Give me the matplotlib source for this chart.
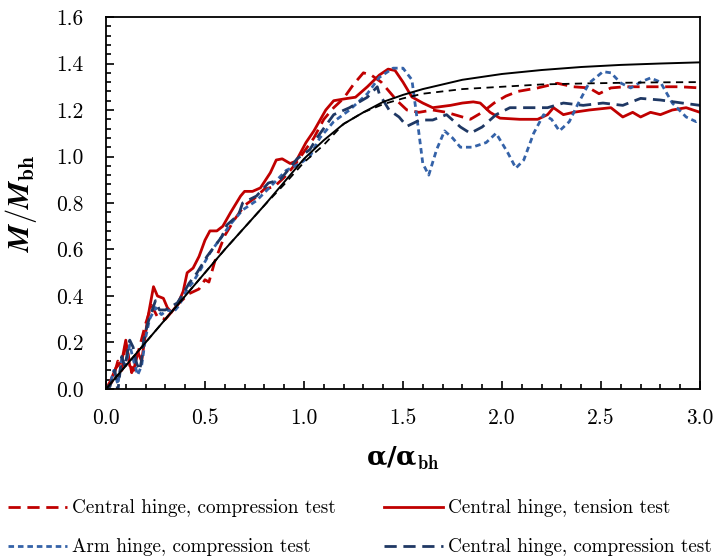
import numpy as np
import matplotlib
matplotlib.use('Agg')
import matplotlib.pyplot as plt
from matplotlib.ticker import MultipleLocator

plt.rcParams['font.family'] = ['cmr10', 'DejaVu Serif']
plt.rcParams['mathtext.fontset'] = 'cm'
plt.rcParams['axes.formatter.use_mathtext'] = True

# ---- data ----
# red dashed: central hinge, compression test
x_red_d = [0, 0.03, 0.06, 0.08, 0.10, 0.13, 0.16, 0.20, 0.23, 0.26, 0.30, 0.33, 0.37, 0.42, 0.47,
           0.50, 0.52, 0.55, 0.60, 0.65, 0.70, 0.75, 0.80, 0.85, 0.90, 0.95, 1.00, 1.05, 1.10, 1.15,
           1.20, 1.25, 1.30, 1.34, 1.39, 1.43, 1.47, 1.52, 1.58, 1.65, 1.72, 1.80, 1.84, 1.90, 1.96,
           2.02, 2.08, 2.18, 2.28, 2.36, 2.44, 2.49, 2.55, 2.62, 2.70, 2.80, 2.90, 3.00]
y_red_d = [0, 0.03, 0.12, 0.08, 0.20, 0.07, 0.15, 0.28, 0.36, 0.31, 0.30, 0.33, 0.37, 0.41, 0.43,
           0.47, 0.46, 0.55, 0.66, 0.73, 0.79, 0.82, 0.86, 0.87, 0.91, 0.96, 1.02, 1.08, 1.16, 1.21,
           1.25, 1.31, 1.36, 1.35, 1.32, 1.28, 1.24, 1.20, 1.19, 1.20, 1.19, 1.17, 1.16, 1.19, 1.23,
           1.26, 1.28, 1.295, 1.315, 1.30, 1.295, 1.27, 1.295, 1.30, 1.30, 1.30, 1.30, 1.295]

# red solid: central hinge, tension test
x_red_s = [0, 0.02, 0.05, 0.08, 0.10, 0.12, 0.14, 0.16, 0.18, 0.21, 0.24, 0.26, 0.29, 0.31, 0.33,
           0.36, 0.39, 0.41, 0.44, 0.47, 0.50, 0.525, 0.56, 0.59, 0.63, 0.68, 0.70, 0.74, 0.78, 0.83,
           0.86, 0.89, 0.93, 0.96, 1.01, 1.05, 1.11, 1.15, 1.22, 1.26, 1.32, 1.38, 1.425, 1.46, 1.50,
           1.545, 1.60, 1.65, 1.74, 1.80, 1.855, 1.89, 1.94, 1.99, 2.09, 2.18, 2.23, 2.26, 2.31, 2.36,
           2.44, 2.55, 2.61, 2.66, 2.70, 2.75, 2.80, 2.86, 2.93, 3.00]
y_red_s = [0, 0.03, 0.09, 0.12, 0.21, 0.10, 0.08, 0.16, 0.12, 0.30, 0.44, 0.40, 0.39, 0.35, 0.33,
           0.36, 0.42, 0.50, 0.52, 0.57, 0.64, 0.68, 0.68, 0.70, 0.76, 0.83, 0.85, 0.85, 0.865, 0.93,
           0.985, 0.99, 0.97, 0.98, 1.06, 1.11, 1.20, 1.24, 1.25, 1.255, 1.30, 1.35, 1.376, 1.37, 1.32,
           1.256, 1.23, 1.21, 1.22, 1.23, 1.235, 1.23, 1.19, 1.165, 1.16, 1.16, 1.18, 1.21, 1.18, 1.19,
           1.20, 1.21, 1.17, 1.19, 1.17, 1.19, 1.18, 1.20, 1.21, 1.19]

# light blue short dash: arm hinge, compression test
x_arm = [0, 0.02, 0.04, 0.06, 0.08, 0.10, 0.12, 0.14, 0.16, 0.18, 0.20, 0.22, 0.25, 0.28, 0.31,
         0.34, 0.37, 0.41, 0.44, 0.475, 0.525, 0.58, 0.63, 0.69, 0.76, 0.83, 0.91, 0.98, 1.03, 1.08,
         1.15, 1.23, 1.32, 1.38, 1.45, 1.50, 1.545, 1.57, 1.60, 1.63, 1.67, 1.71, 1.75, 1.79, 1.85,
         1.92, 1.97, 2.03, 2.07, 2.11, 2.16, 2.21, 2.25, 2.29, 2.34, 2.38, 2.44, 2.51, 2.55, 2.60,
         2.65, 2.70, 2.75, 2.80, 2.86, 2.93, 2.98, 3.00]
y_arm = [0, 0.02, 0.08, 0.02, 0.13, 0.10, 0.19, 0.12, 0.06, 0.10, 0.22, 0.30, 0.35, 0.32, 0.34,
         0.33, 0.36, 0.43, 0.46, 0.51, 0.585, 0.65, 0.71, 0.77, 0.81, 0.87, 0.94, 0.97, 1.00, 1.08,
         1.15, 1.20, 1.27, 1.34, 1.38, 1.38, 1.33, 1.17, 0.97, 0.92, 1.03, 1.11, 1.08, 1.04, 1.04,
         1.06, 1.10, 1.015, 0.95, 0.985, 1.10, 1.18, 1.16, 1.11, 1.15, 1.22, 1.316, 1.365, 1.36, 1.316,
         1.295, 1.32, 1.338, 1.32, 1.23, 1.17, 1.15, 1.16]

# navy long dash: central hinge, compression test
x_navy = [0, 0.02, 0.045, 0.06, 0.08, 0.095, 0.12, 0.137, 0.155, 0.17, 0.18, 0.19, 0.21, 0.23, 0.25,
          0.27, 0.30, 0.32, 0.36, 0.39, 0.42, 0.46, 0.51, 0.585, 0.61, 0.67, 0.69, 0.76, 0.82, 0.88,
          0.965, 1.03, 1.065, 1.15, 1.23, 1.32, 1.37, 1.38, 1.43, 1.48, 1.52, 1.585, 1.65, 1.72, 1.79,
          1.84, 1.90, 1.97, 2.04, 2.13, 2.23, 2.31, 2.41, 2.51, 2.61, 2.70, 2.80, 2.91, 3.00]
y_navy = [0, 0.01, 0.08, -0.01, 0.14, 0.095, 0.21, 0.18, 0.11, 0.08, 0.125, 0.21, 0.28, 0.33, 0.38,
          0.34, 0.34, 0.35, 0.37, 0.41, 0.455, 0.50, 0.57, 0.655, 0.705, 0.75, 0.80, 0.83, 0.886, 0.90,
          0.99, 1.03, 1.08, 1.18, 1.21, 1.255, 1.30, 1.27, 1.20, 1.17, 1.13, 1.157, 1.157, 1.18, 1.127,
          1.10, 1.127, 1.18, 1.21, 1.21, 1.21, 1.23, 1.22, 1.23, 1.22, 1.25, 1.243, 1.23, 1.22]

# black reference curves
x_ref = [0, 0.2, 0.4, 0.6, 0.8, 0.9, 1.0, 1.1, 1.2, 1.3, 1.4, 1.5, 1.6, 1.8, 2.0, 2.2, 2.4, 2.6, 2.8, 3.0]
y_ref_solid = [0, 0.2, 0.4, 0.6, 0.79, 0.89, 0.99, 1.07, 1.14, 1.19, 1.235, 1.265, 1.29, 1.33, 1.355,
               1.372, 1.385, 1.394, 1.40, 1.405]
y_ref_dash = [0, 0.2, 0.4, 0.6, 0.79, 0.88, 0.975, 1.05, 1.14, 1.19, 1.225, 1.25, 1.27, 1.29, 1.30,
              1.31, 1.314, 1.317, 1.319, 1.32]

c_red = '#C00000'
c_blue = '#3462A8'
c_navy = '#1F3864'

fig = plt.figure(figsize=(7.17, 5.58), dpi=100)
ax = fig.add_axes([0.1478, 0.3029, 0.8285, 0.6666])

lw = 2.0
h1, = ax.plot(x_red_d, y_red_d, color=c_red, lw=lw, dashes=(4.4, 2.4),
              label='Central hinge, compression test')
h2, = ax.plot(x_red_s, y_red_s, color=c_red, lw=lw, label='Central hinge, tension test')
h3, = ax.plot(x_arm, y_arm, color=c_blue, lw=lw, dashes=(2.0, 1.4),
              label='Arm hinge, compression test')
h4, = ax.plot(x_navy, y_navy, color=c_navy, lw=lw, dashes=(4.4, 2.4),
              label='Central hinge, compression test')
ax.plot(x_ref, y_ref_solid, color='black', lw=1.4)
ax.plot(x_ref, y_ref_dash, color='black', lw=1.3, dashes=(4.0, 3.0))

ax.set_xlim(0, 3.0)
ax.set_ylim(0, 1.6)
ax.xaxis.set_major_locator(MultipleLocator(0.5))
ax.xaxis.set_minor_locator(MultipleLocator(0.1))
ax.yaxis.set_major_locator(MultipleLocator(0.2))
ax.yaxis.set_minor_locator(MultipleLocator(0.04))
ax.xaxis.set_major_formatter(plt.FuncFormatter(lambda v, p: f'{v:.1f}'))
ax.yaxis.set_major_formatter(plt.FuncFormatter(lambda v, p: f'{v:.1f}'))
ax.tick_params(which='both', direction='in', top=False, right=False, width=1.2, labelsize=15.5)
ax.tick_params(axis='x', which='major', length=6, pad=14)
ax.tick_params(axis='y', which='major', length=6, pad=16)
ax.tick_params(which='minor', length=3.5)
for s in ax.spines.values():
    s.set_linewidth(1.3)

ax.set_xlabel('α/α' + r'$_{\mathbf{bh}}$', fontsize=19, fontfamily='DejaVu Serif',
              fontweight='bold', labelpad=12)
ax.set_ylabel(r'$\boldsymbol{M}/\boldsymbol{M}_{\mathbf{bh}}$', fontsize=22, labelpad=12)

fig.legend(handles=[h1, h3, h2, h4], ncol=2, loc='upper left', bbox_to_anchor=(0.0, 0.119),
           frameon=False, fontsize=13.8, handlelength=3.1, handletextpad=0.25, columnspacing=2.5,
           labelspacing=1.1, borderaxespad=0)

fig.savefig('out.png', dpi=100)
